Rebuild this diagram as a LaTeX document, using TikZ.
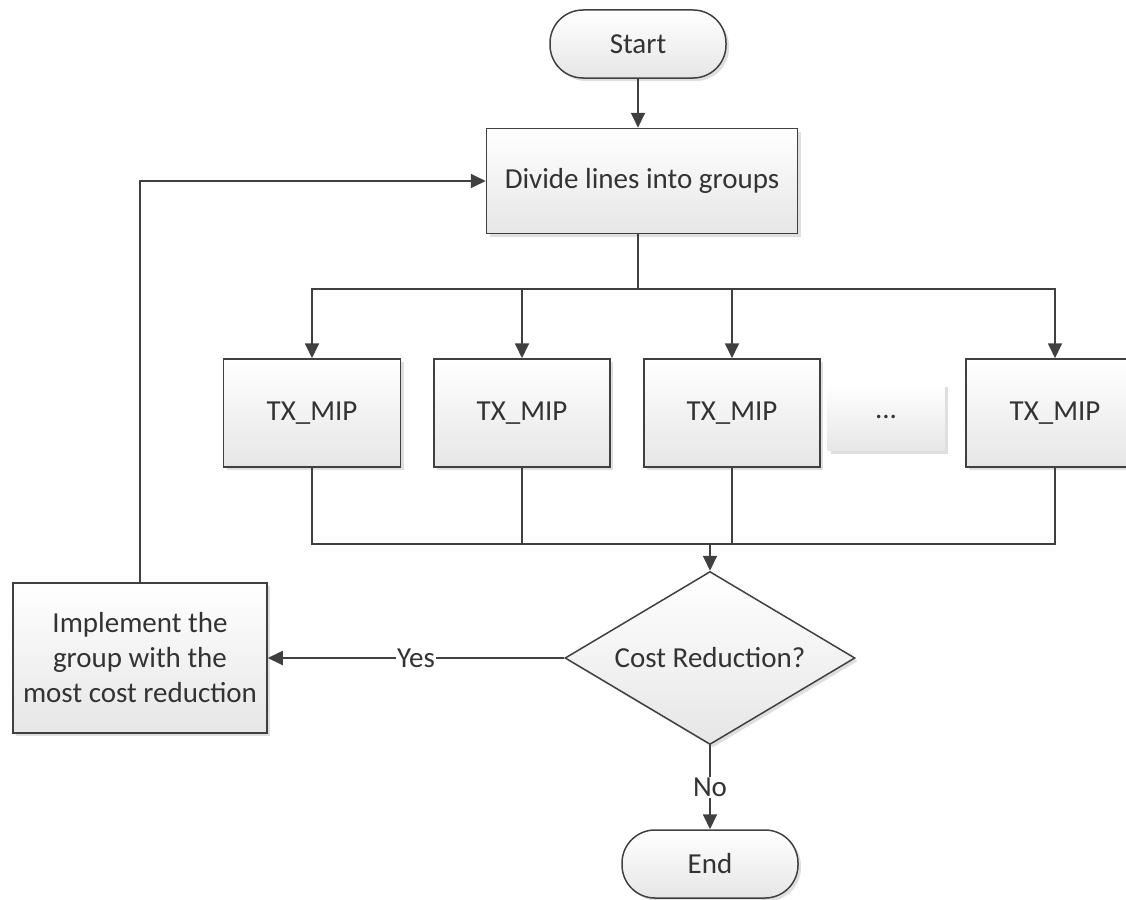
\documentclass[tikz,border=0pt]{standalone}
\usepackage{fontspec}
\setmainfont{Carlito}
\usetikzlibrary{arrows.meta,shapes.geometric,shadows}
\definecolor{ln}{HTML}{404040}
\definecolor{tx}{HTML}{333333}
\definecolor{bot}{HTML}{E6E6E6}
\tikzset{
  every node/.style={font=\fontsize{29}{35}\selectfont, text=tx},
  boxbase/.style={top color=white, bottom color=bot, drop shadow={shadow xshift=3pt, shadow yshift=-3pt, opacity=0.25, fill=gray}},
  procbox/.style={boxbase, draw=ln, line width=1.5pt, rectangle, inner sep=0pt, align=center},
  termbox/.style={boxbase, draw=ln, line width=1.5pt, rectangle, rounded corners=33pt, minimum width=176pt, minimum height=68pt, inner sep=0pt},
  decbox/.style={boxbase, draw=ln, line width=1.5pt, diamond, aspect=1.676, minimum width=290pt, minimum height=173pt, inner sep=0pt},
  conn/.style={draw=ln, line width=1.8pt},
  arr/.style={conn, -{Triangle[length=15pt,width=14pt]}},
  lbl/.style={fill=white, inner sep=1pt}
}
\begin{document}
\begin{tikzpicture}[x=1pt,y=-1pt]
\useasboundingbox (0,0) rectangle (1126,899);
\clip (0,0) rectangle (1126,899);
\node[termbox] (start) at (638,44) {Start};
\node[procbox, minimum width=311pt, minimum height=105pt] (divide) at (642,181) {Divide lines into groups};
\node[procbox, minimum width=177pt, minimum height=108pt] (tx1) at (312,413) {TX\_MIP};
\node[procbox, minimum width=176pt, minimum height=108pt] (tx2) at (522,413) {TX\_MIP};
\node[procbox, minimum width=176pt, minimum height=108pt] (tx3) at (732,413) {TX\_MIP};
\node[boxbase, rectangle, minimum width=117pt, minimum height=67pt, inner sep=0pt] (dots) at (886,417) {...};
\node[procbox, minimum width=178pt, minimum height=108pt] (tx5) at (1055,413) {TX\_MIP};
\node[decbox] (dec) at (710,658) {Cost Reduction?};
\node[procbox, minimum width=254pt, minimum height=150pt] (impl) at (140,658) {Implement the\\group with the\\most cost reduction};
\node[termbox] (end) at (710,864) {End};
\coordinate (split) at (638,289);
\coordinate (merge) at (710,544);
\draw[arr] (start.south) -- (start.south |- divide.north);
\draw[conn] (split |- divide.south) -- (split);
\draw[arr] (split) -| (tx1);
\draw[arr] (split) -| (tx2);
\draw[arr] (split) -| (tx3);
\draw[arr] (split) -| (tx5);
\draw[conn] (tx1) |- (merge);
\draw[conn] (tx2) |- (merge);
\draw[conn] (tx3) |- (merge);
\draw[conn] (tx5) |- (merge);
\draw[arr] (merge) -- (dec.north);
\draw[arr] (dec.west) -- node[lbl] (yes) {Yes} (impl.east);
\draw[arr] (impl.north) |- (divide.west);
\draw[arr] (dec.south) -- node[lbl] (no) {No} (end.north);
\end{tikzpicture}
\end{document}
